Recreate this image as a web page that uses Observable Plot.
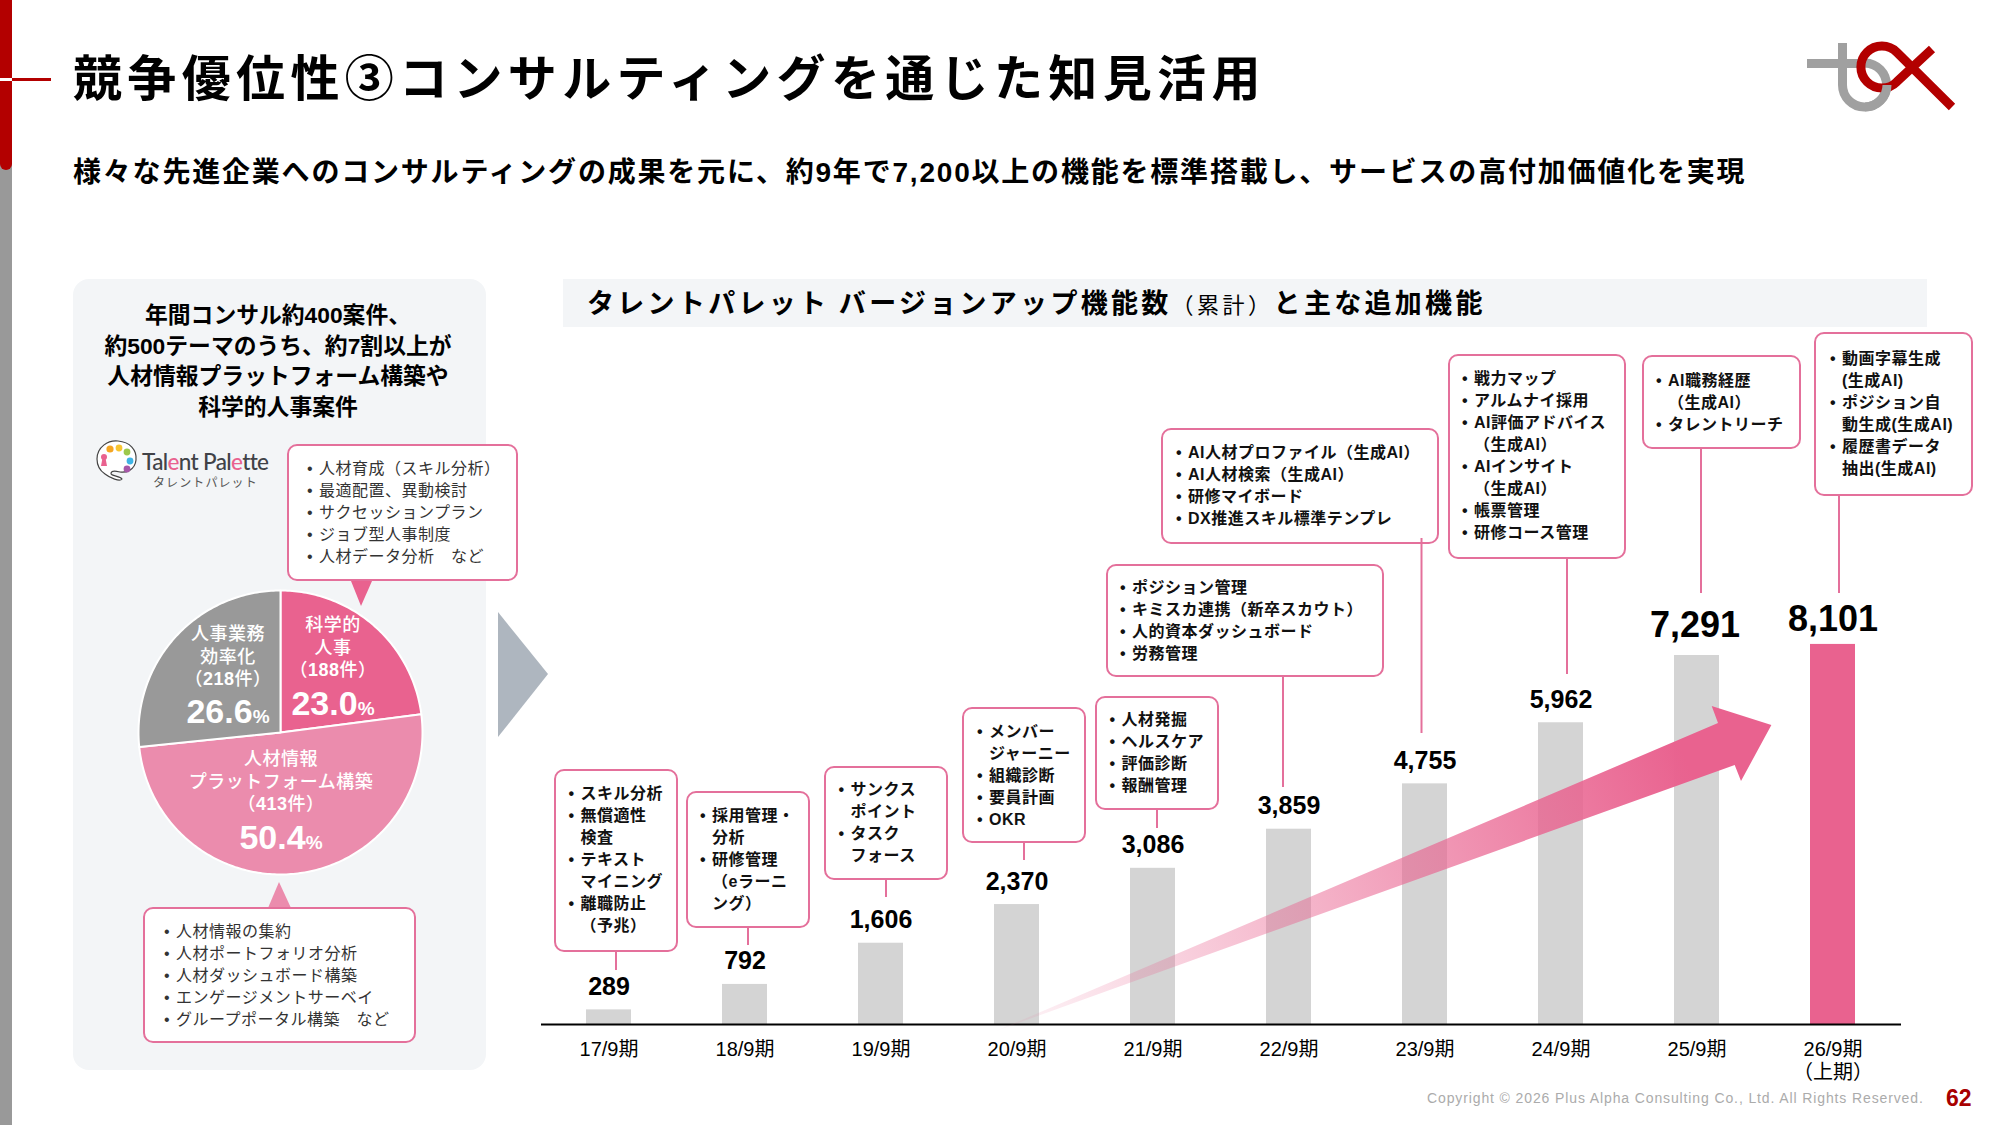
<!DOCTYPE html>
<html lang="ja">
<head>
<meta charset="utf-8">
<script src="https://cdn.jsdelivr.net/npm/d3@7"></script>
<script src="https://cdn.jsdelivr.net/npm/@observablehq/plot@0.6"></script>
<style>
  html,body{margin:0;padding:0;background:#fff;}
  #page{position:relative;width:2000px;height:1125px;overflow:hidden;background:#fff;
        font-family:"Liberation Sans","Noto Sans CJK JP",sans-serif;color:#000;}
  .abs{position:absolute;}
  .t{position:absolute;white-space:pre;}
  .call{position:absolute;box-sizing:border-box;background:#fff;border:2.8px solid #E4709B;border-radius:10px;}
  .ln{position:absolute;white-space:pre;line-height:22px;height:22px;}
  .ln .b{position:absolute;left:-12px;}
</style>
</head>
<body>
<div id="page"></div>
<script>
// ---------- Chart data ----------
const periods = ["17/9期","18/9期","19/9期","20/9期","21/9期","22/9期","23/9期","24/9期","25/9期","26/9期\n（上期）"];
const functionCounts = [289,792,1606,2370,3086,3859,4755,5962,7291,8101];
// Height each bar is drawn at: the source draws its last bar
// shorter than 8,101 would be at the scale shared by the other nine.
const drawnLevels = [289,792,1606,2370,3086,3859,4755,5962,7291,7510];

const pieNames = ["科学的人事","人材情報プラットフォーム構築","人事業務効率化"];
const pieCounts = [188,413,218];
const piePercents = ["23.0","50.4","26.6"];

// ---------- Text ----------
const titleText = "競争優位性③コンサルティングを通じた知見活用";
const subtitleText = "様々な先進企業へのコンサルティングの成果を元に、約9年で7,200以上の機能を標準搭載し、サービスの高付加価値化を実現";
const panelTitle = ["年間コンサル約400案件、","約500テーマのうち、約7割以上が","人材情報プラットフォーム構築や","科学的人事案件"];
const scienceItems = ["• 人材育成（スキル分析）","• 最適配置、異動検討","• サクセッションプラン","• ジョブ型人事制度","• 人材データ分析　など"];
const platformItems = ["• 人材情報の集約","• 人材ポートフォリオ分析","• 人材ダッシュボード構築","• エンゲージメントサーベイ","• グループポータル構築　など"];
const featureItems = [
  ["• スキル分析","• 無償適性","検査","• テキスト","マイニング","• 離職防止","（予兆）"],
  ["• 採用管理・","分析","• 研修管理","（eラーニ","ング）"],
  ["• サンクス","ポイント","• タスク","フォース"],
  ["• メンバー","ジャーニー","• 組織診断","• 要員計画","• OKR"],
  ["• 人材発掘","• ヘルスケア","• 評価診断","• 報酬管理"],
  ["• ポジション管理","• キミスカ連携（新卒スカウト）","• 人的資本ダッシュボード","• 労務管理"],
  ["• AI人材プロファイル（生成AI）","• AI人材検索（生成AI）","• 研修マイボード","• DX推進スキル標準テンプレ"],
  ["• 戦力マップ","• アルムナイ採用","• AI評価アドバイス","（生成AI）","• AIインサイト","（生成AI）","• 帳票管理","• 研修コース管理"],
  ["• AI職務経歴","（生成AI）","• タレントリーチ"],
  ["• 動画字幕生成","(生成AI)","• ポジション自","動生成(生成AI)","• 履歴書データ","抽出(生成AI)"]
];

// ---------- Layout (page pixels) ----------
const featureBoxes = [
  {x0:554,x1:678,y0:769,y1:952,tx:580.5,ty:793,lx:616,ly0:952,ly1:970},
  {x0:686,x1:810,y0:791,y1:928,tx:712,ty:815,lx:748,ly0:928,ly1:945},
  {x0:824,x1:948,y0:766,y1:880,tx:850.5,ty:789,lx:886,ly0:880,ly1:897},
  {x0:962,x1:1086,y0:707,y1:843,tx:989,ty:731,lx:1024,ly0:843,ly1:860},
  {x0:1095,x1:1219,y0:696,y1:810,tx:1121.5,ty:719,lx:1157,ly0:810,ly1:828},
  {x0:1106,x1:1384,y0:564,y1:677,tx:1132,ty:587,lx:1283,ly0:677,ly1:787},
  {x0:1161,x1:1439,y0:428,y1:544,tx:1188,ty:452,lx:1421.5,ly0:538,ly1:733},
  {x0:1448,x1:1626,y0:354,y1:559,tx:1474,ty:378,lx:1567,ly0:559,ly1:674},
  {x0:1642,x1:1801,y0:355,y1:449,tx:1668,ty:380,lx:1701,ly0:449,ly1:593},
  {x0:1814,x1:1973,y0:332,y1:496,tx:1842,ty:358,lx:1839,ly0:496,ly1:593}
];
const PINK="#E9628F", LIGHT="#EB8CAD", GRAY="#999999", RED="#B30000", PANEL="#F3F5F7";
const page=document.getElementById("page");

function el(cls,style,html){const d=document.createElement("div");d.className=cls;Object.assign(d.style,style);if(html!==undefined)d.innerHTML=html;page.appendChild(d);return d;}
function text(s,o){ // o: x (left) or cx (centre), cy, size, weight, color, ls
  const lh=o.size*1.4;
  const st={top:(o.cy-lh/2)+"px",lineHeight:lh+"px",fontSize:o.size+"px",fontWeight:o.weight||400,color:o.color||"#000",letterSpacing:(o.ls||0)+"px"};
  if(o.font)st.fontFamily=o.font;
  if(o.cx!==undefined){st.left=(o.cx-600)+"px";st.width="1200px";st.textAlign="center";} else st.left=o.x+"px";
  return el("t",st,s);
}
function callout(box,items,o){
  el("call",{left:box.x0+"px",top:box.y0+"px",width:(box.x1-box.x0)+"px",height:(box.y1-box.y0)+"px"});
  items.forEach((s,i)=>{
    const bullet=s.startsWith("• ");
    const body=bullet?s.slice(2):s;
    el("ln",{left:box.tx+"px",top:(box.ty+1+i*o.step-11)+"px",fontSize:o.size+"px",fontWeight:o.weight,color:o.color,letterSpacing:o.ls+"px"},
      (bullet?'<span class="b">•</span>':"")+body);
  });
}

// ---------- Slide furniture ----------
el("abs",{left:0,top:0,width:"12px",height:"1125px",background:GRAY});
el("abs",{left:0,top:0,width:"12px",height:"170px",background:RED,borderRadius:"0 0 6px 6px"});
el("abs",{left:0,top:"77.5px",width:"12px",height:"3px",background:"#fff"});
el("abs",{left:"12px",top:"77.5px",width:"39px",height:"3px",background:RED});
text(titleText,{x:73,cy:75,size:49,weight:700,ls:5.35,font:'"Noto Sans CJK JP",sans-serif'});
text(subtitleText,{x:73,cy:173,size:28,weight:700,ls:1.8});

// logo
const NS='xmlns="http://www.w3.org/2000/svg"';
el("abs",{left:0,top:0},`<svg ${NS} width="2000" height="130" style="display:block" fill="none" stroke-linecap="butt">
<path d="M1807 63.5H1865M1842.5 43V85A22 22 0 1 0 1865 63" stroke="#A0A0A0" stroke-width="9"/>
<path d="M1952 107L1896.8 52.2A21 21 0 1 0 1896.8 81.8L1932 49" stroke="${RED}" stroke-width="9"/>
<path d="M1865 107A22 22 0 0 0 1887 85" stroke="#A0A0A0" stroke-width="9"/></svg>`);

// left panel
el("abs",{left:"73px",top:"279px",width:"413px",height:"791px",background:PANEL,borderRadius:"16px"});
panelTitle.forEach((s,i)=>text(s,{cx:278,cy:316+i*30.6,size:22.8,weight:700}));

// Talent Palette logo
el("abs",{left:0,top:0},`<svg ${NS} width="300" height="500" style="display:block;position:absolute;left:0;top:0;overflow:visible">
<path d="M97 459C97 447 108 440 118 441C130 442 137 450 136 460C135 470 126 473 120 472C116 471 112 470 111 473C110 476 120 476 122 479C120 482 110 478 105 474C99 470 97 466 97 459Z" fill="#fff" stroke="#444" stroke-width="1.2"/>
<circle cx="110" cy="449" r="3.6" fill="#F5A623"/><circle cx="119" cy="448" r="3.4" fill="#F7C531"/><circle cx="127" cy="452" r="3.4" fill="#9CC84B"/>
<circle cx="130" cy="461" r="3.4" fill="#3FB4E5"/><circle cx="127" cy="469" r="3.4" fill="#A657A8"/>
<circle cx="104" cy="457" r="3" fill="#E9628F"/><path d="M102.5 458L101 466H107L105.5 458Z" fill="#E9628F"/></svg>`);
text('Tal<span style="color:#E9628F">e</span>nt Pal<span style="color:#E9628F">e</span>tte',{x:142,cy:462,size:22.5,weight:500,color:"#404247",ls:-0.65,font:'Lato,sans-serif'});
text("タレントパレット",{x:153,cy:482,size:12,color:"#555",ls:1.1,font:'"Noto Sans CJK JP",sans-serif'});

// pie chart
const pieAngles=d3.pie().sort(null).value(d=>d)(pieCounts);
const piePoints=pieAngles.flatMap((a,i)=>{
  const n=Math.ceil((a.endAngle-a.startAngle)*60), pts=[{name:pieNames[i],px:0,py:0}];
  for(let k=0;k<=n;k++){const t=a.startAngle+(a.endAngle-a.startAngle)*k/n;pts.push({name:pieNames[i],px:Math.sin(t),py:Math.cos(t)});}
  pts.push({name:pieNames[i],px:0,py:0});
  return pts;
});
const pie=Plot.plot({
  width:300,height:300,margin:0,
  x:{domain:[-1,1],range:[8,292],axis:null},
  y:{domain:[-1,1],range:[292,8],axis:null},
  color:{domain:pieNames,range:[PINK,LIGHT,GRAY]},
  style:{background:"transparent"},
  marks:[Plot.line(piePoints,{x:"px",y:"py",z:"name",fill:"name",stroke:"#fff",strokeWidth:2,curve:"linear"})]
});
const pieWrap=el("abs",{left:"130px",top:"581.5px"});pieWrap.appendChild(pie);

// pie labels
const pl={size:18,weight:500,color:"#fff",ls:0.5};
[["人事業務",228,635],["効率化",228,658],["（<b>218</b>件）",228,680],["科学的",333,626],["人事",333,649],["（<b>188</b>件）",333,671],
 ["人材情報",281,760],["プラットフォーム構築",281,783],["（<b>413</b>件）",281,805]]
 .forEach(([s,cx,cy])=>text(s,{...pl,cx,cy}));
const pct=(v,cx,cy)=>text(`${v}<span style="font-size:19px">%</span>`,{cx,cy,size:34,weight:700,color:"#fff"});
pct(piePercents[2],228,712);pct(piePercents[0],333,704);pct(piePercents[1],281,838);

// left callouts + pointers
el("abs",{left:0,top:0},`<svg ${NS} width="600" height="1125" style="display:block;position:absolute;left:0;top:0;overflow:visible">
<polygon points="351,581 372,581 361,606" fill="${PINK}"/><polygon points="268,908 291,908 279,882" fill="${LIGHT}"/>
<polygon points="498,612 548,674 498,737" fill="#AEB6BF"/></svg>`);
callout({x0:287,x1:518,y0:444,y1:581,tx:319,ty:468},scienceItems,{size:16,weight:400,color:"#333",ls:0.5,step:22});
callout({x0:143,x1:416,y0:907,y1:1043,tx:176,ty:931},platformItems,{size:16,weight:400,color:"#333",ls:0.5,step:22});

// header band
el("abs",{left:"563px",top:"279px",width:"1364px",height:"48px",background:PANEL});
text('タレントパレット バージョンアップ機能数<span style="font-size:22px;font-weight:400;letter-spacing:3.5px">（累計）</span>と主な追加機能',{x:587,cy:302,size:27,weight:700,ls:3.3,font:'"Noto Sans CJK JP",sans-serif'});

// bar chart
const rows=periods.map((p,i)=>({period:p,value:functionCounts[i],level:drawnLevels[i],kind:i===periods.length-1?"current":"past"}));
const big=d=>d.value>=7000;
const fmt=d=>d3.format(",")(d.value);
const chart=Plot.plot({
  width:1360,height:530,marginLeft:0,marginRight:0,marginTop:0,marginBottom:66,
  style:{background:"transparent",fontFamily:'"Liberation Sans","Noto Sans CJK JP",sans-serif',color:"#000",overflow:"visible"},
  x:{domain:periods,paddingInner:0.669,paddingOuter:0.3345,align:0.5},
  y:{domain:[0,7291],range:[464,95],axis:null},
  color:{domain:["past","current"],range:["#D4D4D4",PINK]},
  marks:[
    Plot.barY(rows,{x:"period",y:"level",fill:"kind"}),
    Plot.ruleY([0],{stroke:"#000",strokeWidth:2}),
    Plot.axisX({tickSize:0,tickPadding:15,fontSize:20,lineHeight:1.15,label:null}),
    Plot.text(rows.filter(d=>!big(d)),{x:"period",y:"level",text:fmt,dy:-23,fontSize:25,fontWeight:700,fill:"#000"}),
    Plot.text(rows.filter(d=>d.value===7291),{x:"period",y:"level",text:fmt,dy:-30,dx:-2,fontSize:36,fontWeight:700,fill:"#000"}),
    Plot.text(rows.filter(d=>d.value===8101),{x:"period",y:"level",text:fmt,dy:-25,fontSize:36,fontWeight:700,fill:"#000"})
  ]
});
const chartWrap=el("abs",{left:"540.7px",top:"560px"});chartWrap.appendChild(chart);

// growth arrow overlay + leader lines
const leaders=featureBoxes.map(b=>`<line x1="${b.lx}" x2="${b.lx}" y1="${b.ly0}" y2="${b.ly1}" stroke="#E4709B" stroke-width="2"/>`).join("");
el("abs",{left:0,top:0},`<svg ${NS} width="2000" height="1125" style="display:block;position:absolute;left:0;top:0;pointer-events:none">
<defs><linearGradient id="grow" gradientUnits="userSpaceOnUse" x1="1000" y1="1031" x2="1680" y2="745">
<stop offset="0" stop-color="${PINK}" stop-opacity="0.05"/><stop offset="1" stop-color="${PINK}" stop-opacity="1"/></linearGradient></defs>
<polygon points="996,1031 1718,723 1711.7,706 1771.4,725 1741,781 1734.7,765" fill="url(#grow)"/></svg>`);

featureBoxes.forEach((b,i)=>callout(b,featureItems[i],{size:16,weight:700,color:"#111",ls:0.5,step:22}));
el("abs",{left:0,top:0},`<svg ${NS} width="2000" height="1125" style="display:block;position:absolute;left:0;top:0;pointer-events:none">${leaders}</svg>`);

// footer
text("Copyright © 2026 Plus Alpha Consulting Co., Ltd. All Rights Reserved.",{x:1427,cy:1099,size:14,color:"#ABABAB",ls:0.88});
text("62",{x:1946,cy:1098,size:23,weight:700,color:"#A80000"});
</script>
</body>
</html>
